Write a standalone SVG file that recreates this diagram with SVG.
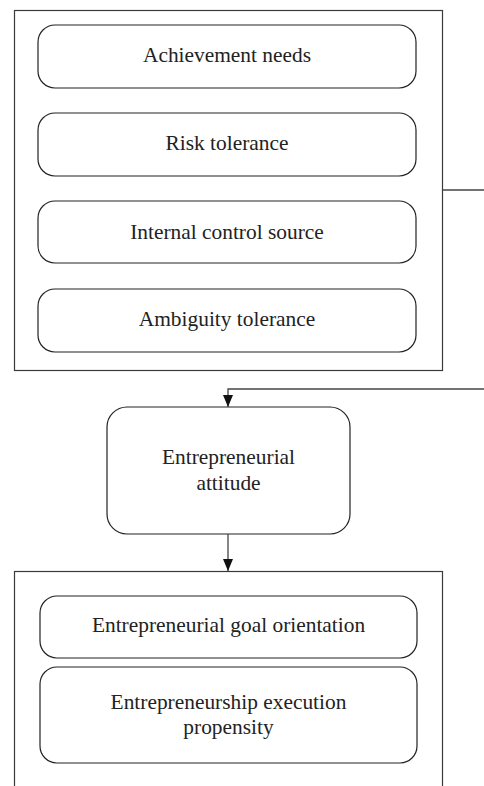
<svg xmlns="http://www.w3.org/2000/svg" width="484" height="786" viewBox="0 0 484 786">
<style>
.outer{fill:none;stroke:#3a3a3a;stroke-width:1.2}
.node{fill:#fff;stroke:#222;stroke-width:1.2}
.lbl{font-family:"Liberation Serif","Times New Roman",serif;font-size:21.4px;fill:#222;text-anchor:middle}
.conn{fill:none;stroke:#444;stroke-width:1.3}
</style>
<defs>
<marker id="arr" markerUnits="userSpaceOnUse" markerWidth="12" markerHeight="12" viewBox="0 0 12 12" refX="12" refY="6" orient="auto">
<path d="M0,1 L12,6 L0,11 Z" fill="#111"/>
</marker>
</defs>
<rect width="484" height="786" fill="#fff"/>
<g id="group-traits">
<rect class="outer" x="14.5" y="10.5" width="428" height="360"/>
</g>
<g id="achievement-needs">
<rect class="node" x="38" y="25" width="378" height="63" rx="17"/>
<text class="lbl" x="227" y="62">Achievement needs</text>
</g>
<g id="risk-tolerance">
<rect class="node" x="38" y="113" width="378" height="63" rx="17"/>
<text class="lbl" x="227" y="149.5">Risk tolerance</text>
</g>
<g id="internal-control">
<rect class="node" x="38" y="201" width="378" height="62" rx="17"/>
<text class="lbl" x="227" y="238.5">Internal control source</text>
</g>
<g id="ambiguity-tolerance">
<rect class="node" x="38" y="289" width="378" height="63" rx="17"/>
<text class="lbl" x="227" y="326">Ambiguity tolerance</text>
</g>
<g id="entrepreneurial-attitude">
<rect class="node" x="107" y="407" width="243" height="127" rx="20"/>
<text class="lbl" x="228.5" y="463.5">Entrepreneurial</text>
<text class="lbl" x="228.5" y="489.5">attitude</text>
</g>
<g id="group-intention">
<rect class="outer" x="14.5" y="571.5" width="428" height="240"/>
</g>
<g id="goal-orientation">
<rect class="node" x="40" y="596" width="377" height="62" rx="17"/>
<text class="lbl" x="228.5" y="632">Entrepreneurial goal orientation</text>
</g>
<g id="execution-propensity">
<rect class="node" x="40" y="667" width="377" height="96" rx="17"/>
<text class="lbl" x="228.5" y="708.5">Entrepreneurship execution</text>
<text class="lbl" x="228.5" y="734">propensity</text>
</g>
<g id="connectors">
<path class="conn" d="M443,190 H484"/>
<path class="conn" d="M484,389 H228 V407" marker-end="url(#arr)"/>
<path class="conn" d="M228,534 V571" marker-end="url(#arr)"/>
</g>
</svg>
